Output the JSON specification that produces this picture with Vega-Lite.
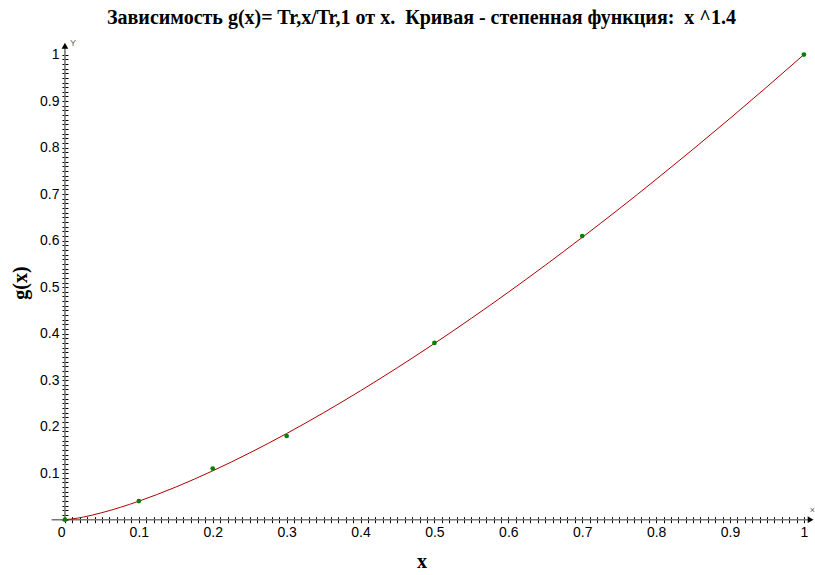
{
  "$schema": "https://vega.github.io/schema/vega-lite/v6.json",
  "width": 787,
  "height": 493,
  "autosize": "none",
  "padding": {"left": 28, "top": 36, "right": 0, "bottom": 46},
  "background": "white",
  "config": {"view": {"stroke": null}},
  "title": {
    "text": "Зависимость g(x)= Tr,x/Tr,1 от x. \u00a0Кривая - степенная функция: \u00a0x ^1.4",
    "font": "Liberation Serif",
    "fontSize": 20,
    "fontWeight": "bold",
    "color": "black",
    "anchor": "middle",
    "offset": 8
  },
  "encoding": {
    "x": {
      "field": "x", "type": "quantitative",
      "scale": {"domain": [-0.05, 1.015], "nice": false, "zero": false},
      "axis": {
        "title": "x",
        "titleFont": "Liberation Serif", "titleFontSize": 20, "titleFontWeight": "bold", "titleColor": "black",
        "titlePadding": 12,
        "offset": -12.3,
        "domain": false, "grid": false,
        "tickSize": 6, "tickColor": "black", "tickWidth": 1,
        "values": [0,0.01,0.02,0.03,0.04,0.05,0.06,0.07,0.08,0.09,0.1,0.11,0.12,0.13,0.14,0.15,0.16,0.17,0.18,0.19,0.2,0.21,0.22,0.23,0.24,0.25,0.26,0.27,0.28,0.29,0.3,0.31,0.32,0.33,0.34,0.35,0.36,0.37,0.38,0.39,0.4,0.41,0.42,0.43,0.44,0.45,0.46,0.47,0.48,0.49,0.5,0.51,0.52,0.53,0.54,0.55,0.56,0.57,0.58,0.59,0.6,0.61,0.62,0.63,0.64,0.65,0.66,0.67,0.68,0.69,0.7,0.71,0.72,0.73,0.74,0.75,0.76,0.77,0.78,0.79,0.8,0.81,0.82,0.83,0.84,0.85,0.86,0.87,0.88,0.89,0.9,0.91,0.92,0.93,0.94,0.95,0.96,0.97,0.98,0.99,1],
        "labelExpr": "datum.value == 0 ? '0' : (abs(datum.value*10 - round(datum.value*10)) < 0.000001 ? format(datum.value, '.1~f') : '')",
        "labelFont": "Liberation Sans", "labelFontSize": 14, "labelColor": "black",
        "labelPadding": 3,
        "labelAlign": {"condition": {"test": "datum.value == 0", "value": "right"}, "value": "center"},
        "labelOverlap": false, "labelBound": false, "labelFlush": false
      }
    },
    "y": {
      "field": "y", "type": "quantitative",
      "scale": {"domain": [-0.02, 1.04], "nice": false, "zero": false},
      "axis": {
        "title": "g(x)",
        "titleFont": "Liberation Serif", "titleFontSize": 20, "titleFontWeight": "bold", "titleColor": "black",
        "titlePadding": 9,
        "offset": -39.96,
        "domain": false, "grid": false,
        "tickSize": 6, "tickColor": "black", "tickWidth": 1,
        "values": [0,0.01,0.02,0.03,0.04,0.05,0.06,0.07,0.08,0.09,0.1,0.11,0.12,0.13,0.14,0.15,0.16,0.17,0.18,0.19,0.2,0.21,0.22,0.23,0.24,0.25,0.26,0.27,0.28,0.29,0.3,0.31,0.32,0.33,0.34,0.35,0.36,0.37,0.38,0.39,0.4,0.41,0.42,0.43,0.44,0.45,0.46,0.47,0.48,0.49,0.5,0.51,0.52,0.53,0.54,0.55,0.56,0.57,0.58,0.59,0.6,0.61,0.62,0.63,0.64,0.65,0.66,0.67,0.68,0.69,0.7,0.71,0.72,0.73,0.74,0.75,0.76,0.77,0.78,0.79,0.8,0.81,0.82,0.83,0.84,0.85,0.86,0.87,0.88,0.89,0.9,0.91,0.92,0.93,0.94,0.95,0.96,0.97,0.98,0.99,1],
        "labelExpr": "datum.value == 0 ? '' : (abs(datum.value*10 - round(datum.value*10)) < 0.000001 ? format(datum.value, '.1~f') : '')",
        "labelFont": "Liberation Sans", "labelFontSize": 14, "labelColor": "black",
        "labelPadding": 3,
        "labelOverlap": false, "labelBound": false, "labelFlush": false
      }
    }
  },
  "layer": [
    {
      "data": {"values": [
        {"x": -0.018, "y": 0, "x2": 1.006, "y2": 0},
        {"x": 0, "y": 0, "x2": 0, "y2": 1.02}
      ]},
      "mark": {"type": "rule", "color": "#777777", "strokeWidth": 1.6},
      "encoding": {
        "x2": {"field": "x2"},
        "y2": {"field": "y2"}
      }
    },
    {
      "data": {"values": [
        {"x": 1.009, "y": 0, "shape": "triangle-right"},
        {"x": 0, "y": 1.019, "shape": "triangle-up"}
      ]},
      "mark": {"type": "point", "filled": true, "color": "black", "opacity": 1, "size": 45},
      "encoding": {
        "shape": {"field": "shape", "type": "nominal", "scale": null, "legend": null}
      }
    },
    {
      "data": {"values": [
        {"x": 1.0115, "y": 0.021, "label": "×"},
        {"x": 0.011, "y": 1.026, "label": "Y"}
      ]},
      "mark": {"type": "text", "font": "Liberation Sans", "fontSize": 9, "color": "#666666", "align": "center", "baseline": "middle"},
      "encoding": {"text": {"field": "label"}}
    },
    {
      "data": {"values": [
        {"x": 0, "y": 0},
        {"x": 0.01, "y": 0.0016},
        {"x": 0.025, "y": 0.0057},
        {"x": 0.05, "y": 0.0151},
        {"x": 0.075, "y": 0.0266},
        {"x": 0.1, "y": 0.0398},
        {"x": 0.15, "y": 0.0702},
        {"x": 0.2, "y": 0.1051},
        {"x": 0.25, "y": 0.1436},
        {"x": 0.3, "y": 0.1853},
        {"x": 0.35, "y": 0.2300},
        {"x": 0.4, "y": 0.2773},
        {"x": 0.45, "y": 0.3270},
        {"x": 0.5, "y": 0.3789},
        {"x": 0.55, "y": 0.4330},
        {"x": 0.6, "y": 0.4891},
        {"x": 0.65, "y": 0.5471},
        {"x": 0.7, "y": 0.6070},
        {"x": 0.75, "y": 0.6684},
        {"x": 0.8, "y": 0.7317},
        {"x": 0.85, "y": 0.7965},
        {"x": 0.9, "y": 0.8629},
        {"x": 0.95, "y": 0.9307},
        {"x": 1, "y": 1}
      ]},
      "mark": {"type": "line", "color": "#b00000", "strokeWidth": 1, "interpolate": "monotone"}
    },
    {
      "data": {"values": [
        {"x": 0, "y": 0},
        {"x": 0.1, "y": 0.04},
        {"x": 0.2, "y": 0.11},
        {"x": 0.3, "y": 0.18},
        {"x": 0.5, "y": 0.38},
        {"x": 0.7, "y": 0.61},
        {"x": 1, "y": 1}
      ]},
      "mark": {"type": "point", "filled": true, "shape": "circle", "color": "#008000", "opacity": 1, "size": 22}
    }
  ]
}
